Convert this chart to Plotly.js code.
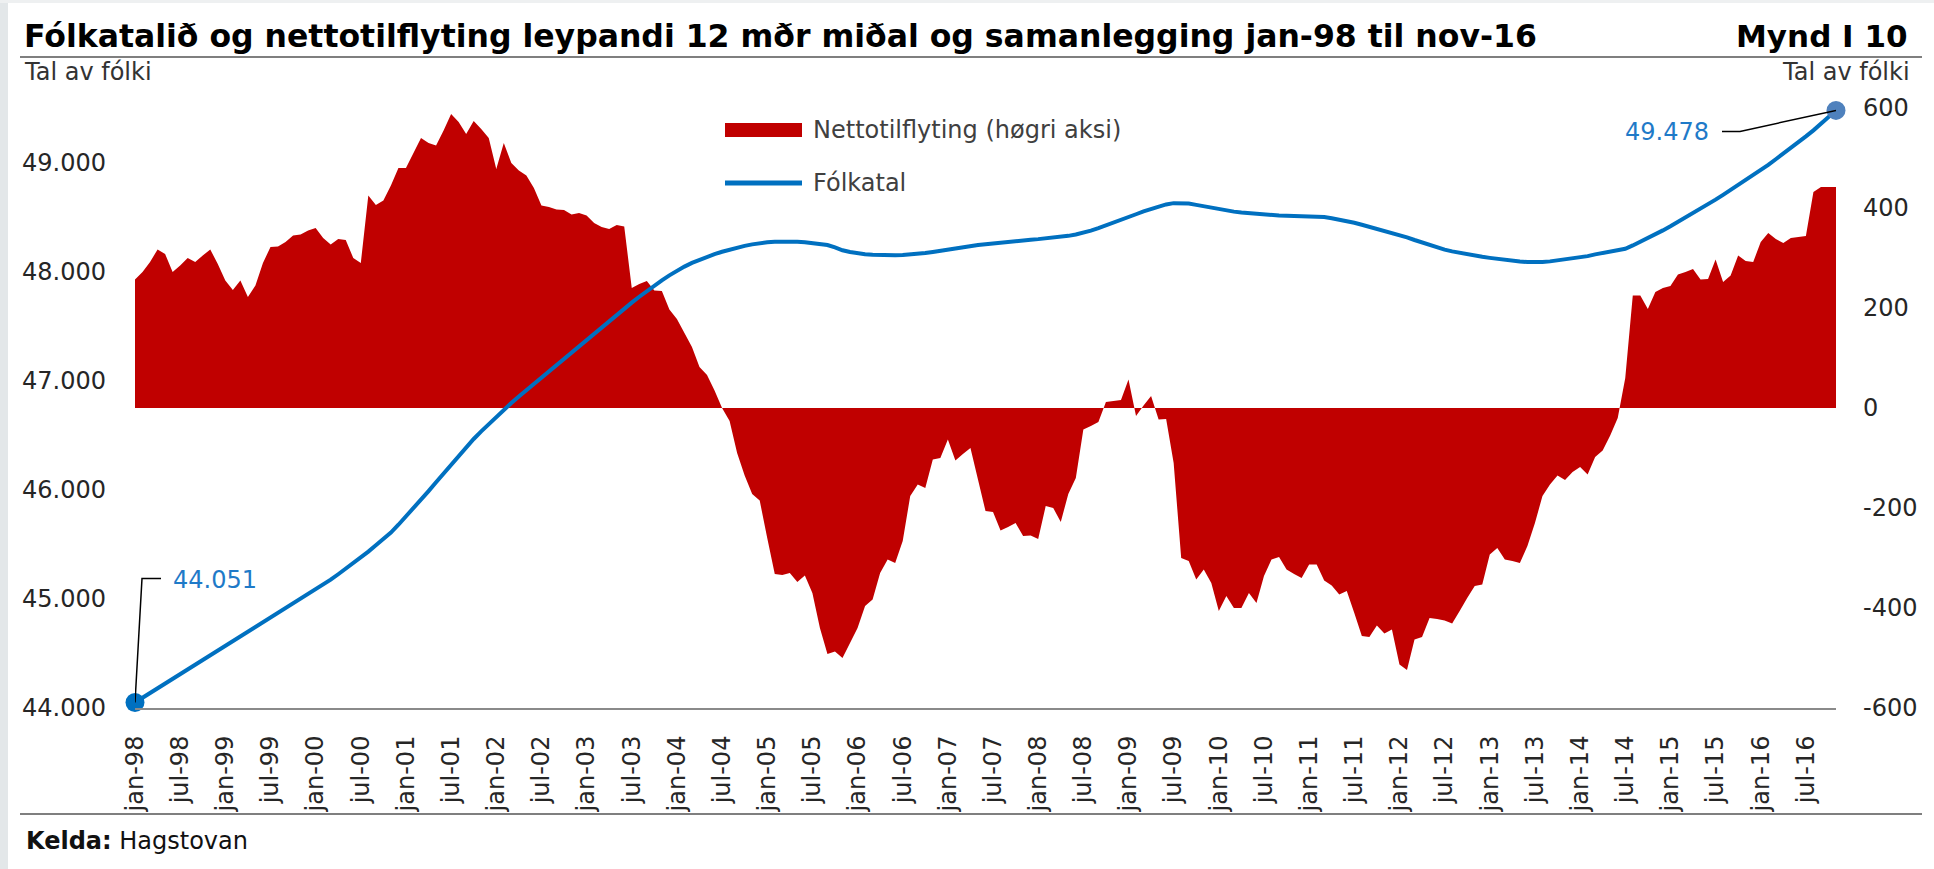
<!DOCTYPE html>
<html>
<head>
<meta charset="utf-8">
<script src="https://cdn.plot.ly/plotly-3.0.1.min.js"></script>
<style>
  html, body { margin: 0; padding: 0; background: #ffffff; }
  #chart { width: 1934px; height: 869px; }
</style>
</head>
<body>
<div id="chart"></div>
<script>
// ---------- DATA ----------
const monthNames = ['jan','feb','mar','apr','mai','jun','jul','aug','sep','okt','nov','des'];
const firstYear = 1998;
const lastYear = 2016;
const lastMonthIndex = 10; // nov-16

// Nettotilflyting, 12 mðr samanlegging (right axis)
const netMigration = [
  257, 272, 292, 317, 308, 272, 285, 300, 292, 305, 317, 288,
  255, 236, 255, 222, 245, 290, 322, 323, 332, 345, 347, 355,
  360, 340, 327, 338, 336, 300, 290, 425, 406, 415, 445, 480,
  480, 510, 540, 530, 525, 555, 588, 572, 548, 574, 558, 540,
  478, 530, 490, 475, 465, 440, 405, 402, 397, 396, 387, 390,
  385, 370, 362, 358, 366, 363, 240, 248, 254, 235, 234, 197,
  178, 150, 122, 82, 66, 35, 0, -26, -90, -135, -172, -185,
  -260, -332, -334, -330, -348, -335, -370, -440, -492, -487, -500, -470,
  -440, -396, -383, -330, -303, -310, -266, -176, -153, -160, -103, -100,
  -63, -105, -92, -80, -143, -206, -208, -245, -238, -230, -256, -255,
  -262, -196, -200, -228, -172, -140, -43, -36, -28, 12, 14, 16,
  57, -16, 5, 24, -23, -22, -110, -300, -306, -343, -323, -350,
  -406, -376, -400, -400, -370, -390, -336, -303, -298, -323, -332, -340,
  -313, -313, -345, -355, -373, -366, -410, -456, -458, -435, -451, -443,
  -513, -524, -463, -458, -420, -422, -425, -431, -406, -380, -356, -353,
  -293, -280, -303, -306, -310, -276, -230, -176, -153, -135, -144, -128,
  -118, -133, -98, -85, -55, -20, 60, 225, 225, 198, 232, 240,
  244, 267, 272, 278, 257, 258, 297, 252, 265, 305, 294, 292,
  332, 350, 338, 330, 340, 342, 344, 432, 442, 442, 442
];

// Fólkatal, 12 mðr miðal (left axis)
const population = [
  44051, 44094, 44137, 44180, 44223, 44266, 44309, 44352, 44395, 44438, 44481, 44524,
  44567, 44610, 44653, 44696, 44739, 44782, 44825, 44868, 44911, 44954, 44997, 45040,
  45083, 45126, 45176, 45226, 45276, 45326, 45376, 45434, 45492, 45550, 45608, 45680,
  45755, 45830, 45908, 45988, 46070, 46152, 46234, 46314, 46392, 46466, 46536, 46604,
  46670, 46734, 46796, 46856, 46914, 46970, 47026, 47082, 47140, 47198, 47256, 47314,
  47372, 47430, 47488, 47546, 47604, 47660, 47716, 47770, 47822, 47872, 47920, 47966,
  48008, 48046, 48080, 48110, 48136, 48160, 48182, 48202, 48220, 48236, 48250, 48262,
  48270, 48274, 48276, 48276, 48274, 48270, 48264, 48256, 48244, 48222, 48196, 48180,
  48168, 48160, 48154, 48151, 48150, 48150, 48152, 48156, 48162, 48170, 48180, 48192,
  48204, 48216, 48226, 48236, 48244, 48252, 48260, 48268, 48274, 48280, 48286, 48292,
  48298, 48304, 48310, 48318, 48328, 48340, 48356, 48376, 48398, 48422, 48448, 48474,
  48500, 48526, 48552, 48576, 48598, 48616, 48628, 48630, 48624, 48612, 48598, 48584,
  48572, 48560, 48550, 48542, 48535, 48528, 48523, 48518, 48515, 48513, 48511, 48510,
  48508, 48506, 48500, 48490, 48478, 48464, 48448, 48430, 48412, 48392, 48372, 48354,
  48338, 48314, 48290, 48266, 48242, 48220, 48202, 48186, 48172, 48160, 48148, 48136,
  48126, 48116, 48106, 48098, 48092, 48088, 48086, 48088, 48094, 48102, 48112, 48122,
  48132, 48142, 48158, 48172, 48184, 48196, 48210, 48240, 48272, 48306, 48342, 48378,
  48416, 48455, 48495, 48535, 48575, 48617, 48660, 48704, 48748, 48792, 48838, 48884,
  48930, 48978, 49030, 49080, 49132, 49186, 49240, 49295, 49354, 49414, 49478
];

const rightTickVals = [-600, -400, -200, 0, 200, 400, 600];
const rightTickText = ['-600', '-400', '-200', '0', '200', '400', '600'];
const leftTickVals = [44000, 45000, 46000, 47000, 48000, 49000];

const netName = 'Nettotilflyting (høgri aksi)';
const popName = 'Fólkatal';
const titleText = 'Fólkatalið og nettotilflyting leypandi 12 mðr miðal og samanlegging jan-98 til nov-16';
const figureText = 'Mynd I 10';
const unitText = 'Tal av fólki';
const sourceText = '<b>Kelda:</b> Hagstovan';

// categories (month labels)
const months = [];
for (let y = firstYear; y <= lastYear; y++) {
  for (let m = 0; m < 12; m++) {
    if (y === lastYear && m > lastMonthIndex) break;
    months.push(monthNames[m] + '-' + String(y % 100).padStart(2, '0'));
  }
}
const tickLabels = months.filter(s => s.startsWith('jan') || s.startsWith('jul'));

// ---------- STYLE ----------
const RED = '#C00000';
const BLUE = '#0070C0';
const BLUE_LIGHT = '#4F81BD';
const LABEL_BLUE = '#1f7ac8';
const FONT = 'DejaVu Sans, Verdana, sans-serif';
const W = 1934, H = 869, ML = 135, MR = 98, MT = 108, MB = 161;
const PW = W - ML - MR, PH = H - MT - MB;
const px = x => (x - ML) / PW;          // pixel -> paper x
const py = y => (H - MB - y) / PH;      // pixel -> paper y

const fmt = v => String(Math.round(v)).replace(/\B(?=(\d{3})+(?!\d))/g, '.');
const last = months.length - 1;

const traces = [
  {
    type: 'scatter', name: netName, x: months, y: netMigration,
    yaxis: 'y', mode: 'none', fill: 'tozeroy', fillcolor: RED,
    showlegend: false, hoverinfo: 'x+y'
  },
  {
    type: 'scatter', name: popName, x: months, y: population,
    yaxis: 'y2', mode: 'lines', line: { color: BLUE, width: 4 },
    showlegend: false
  },
  {
    type: 'scatter', name: popName, x: [months[0], months[last]], y: [population[0], population[last]],
    yaxis: 'y2', mode: 'markers', cliponaxis: false,
    marker: { size: 19, color: [BLUE, BLUE_LIGHT] },
    showlegend: false, hoverinfo: 'skip'
  }
];

const annotations = [
  { xref: 'paper', yref: 'paper', x: px(1910), y: py(36), xanchor: 'right', yanchor: 'middle',
    text: figureText, showarrow: false, font: { family: FONT, size: 31, color: '#000', weight: 'bold' } },
  { xref: 'paper', yref: 'paper', x: px(22), y: py(72), xanchor: 'left', yanchor: 'middle',
    text: unitText, showarrow: false, font: { family: FONT, size: 24, color: '#333' } },
  { xref: 'paper', yref: 'paper', x: px(1912), y: py(72), xanchor: 'right', yanchor: 'middle',
    text: unitText, showarrow: false, font: { family: FONT, size: 24, color: '#333' } },
  { xref: 'paper', yref: 'paper', x: px(24), y: py(841), xanchor: 'left', yanchor: 'middle',
    text: sourceText, showarrow: false, font: { family: FONT, size: 24, color: '#111' } },
  // legend labels
  { xref: 'paper', yref: 'paper', x: px(811), y: py(130), xanchor: 'left', yanchor: 'middle',
    text: netName, showarrow: false, font: { family: FONT, size: 24, color: '#404040' } },
  { xref: 'paper', yref: 'paper', x: px(811), y: py(183), xanchor: 'left', yanchor: 'middle',
    text: popName, showarrow: false, font: { family: FONT, size: 24, color: '#404040' } },
  // value labels
  { xref: 'x', yref: 'y2', x: months[0], y: population[0], xanchor: 'left', yanchor: 'middle',
    xshift: 36, yshift: 122, text: fmt(population[0]), showarrow: false,
    font: { family: FONT, size: 24, color: LABEL_BLUE } },
  { xref: 'x', yref: 'y2', x: months[last], y: population[last], xanchor: 'right', yanchor: 'middle',
    xshift: -125, yshift: -22, text: fmt(population[last]), showarrow: false,
    font: { family: FONT, size: 24, color: LABEL_BLUE } }
];

const shapes = [
  // page border tint
  { type: 'rect', xref: 'paper', yref: 'paper', x0: px(0), x1: px(8), y0: py(H), y1: py(0),
    fillcolor: '#e3e7e9', line: { width: 0 }, layer: 'below' },
  { type: 'rect', xref: 'paper', yref: 'paper', x0: px(0), x1: px(W), y0: py(3), y1: py(0),
    fillcolor: '#eef0f1', line: { width: 0 }, layer: 'below' },
  // rule under title
  { type: 'line', xref: 'paper', yref: 'paper', x0: px(20), x1: px(1922), y0: py(57), y1: py(57),
    line: { color: '#7f7f7f', width: 2 } },
  // rule above source
  { type: 'line', xref: 'paper', yref: 'paper', x0: px(20), x1: px(1922), y0: py(814), y1: py(814),
    line: { color: '#7f7f7f', width: 2 } },
  // legend symbols
  { type: 'rect', xref: 'paper', yref: 'paper', x0: px(725), x1: px(802), y0: py(137), y1: py(123),
    fillcolor: RED, line: { width: 0 } },
  { type: 'line', xref: 'paper', yref: 'paper', x0: px(725), x1: px(802), y0: py(183), y1: py(183),
    line: { color: BLUE, width: 5 } },
  // leader lines to the labelled points
  { type: 'path', xref: 'x', yref: 'y2', xsizemode: 'pixel', ysizemode: 'pixel',
    xanchor: months[0], yanchor: population[0], path: 'M0,0 L7,124 L26,124',
    line: { color: '#000', width: 1.5 } },
  { type: 'path', xref: 'x', yref: 'y2', xsizemode: 'pixel', ysizemode: 'pixel',
    xanchor: months[last], yanchor: population[last], path: 'M0,0 L-96,-21 L-114,-21',
    line: { color: '#000', width: 1.5 } }
];

const tickFont = { family: FONT, size: 24, color: '#262626' };

const layout = {
  width: W, height: H,
  margin: { l: ML, r: MR, t: MT, b: MB, pad: 0 },
  paper_bgcolor: '#ffffff', plot_bgcolor: 'rgba(0,0,0,0)',
  separators: ',.',
  showlegend: false,
  title: {
    text: titleText, xref: 'container', yref: 'container',
    x: 24 / W, xanchor: 'left', y: 1 - 36 / H, yanchor: 'middle',
    font: { family: FONT, size: 31.5, color: '#000', weight: 'bold' }
  },
  xaxis: {
    type: 'category', range: [0, last], tickmode: 'array', tickvals: tickLabels, ticktext: tickLabels,
    tickangle: -90, tickfont: tickFont, ticks: '', showgrid: false, zeroline: false,
    showline: true, linecolor: '#8a8a8a', linewidth: 2, automargin: false, ticklabelstandoff: 16
  },
  yaxis: {
    side: 'right', range: [-600, 600], tickmode: 'array', tickvals: rightTickVals, ticktext: rightTickText,
    tickfont: tickFont, ticks: '', showgrid: false, zeroline: false, showline: false,
    automargin: false, ticklabelstandoff: 26
  },
  yaxis2: {
    overlaying: 'y', side: 'left', range: [44000, 49500], tickmode: 'array', tickvals: leftTickVals,
    tickformat: ',d', tickfont: tickFont, ticks: '', showgrid: false, zeroline: false, showline: false,
    automargin: false, ticklabelstandoff: 28
  },
  annotations: annotations,
  shapes: shapes
};

Plotly.newPlot('chart', traces, layout, { displayModeBar: false, responsive: false });
</script>
</body>
</html>
